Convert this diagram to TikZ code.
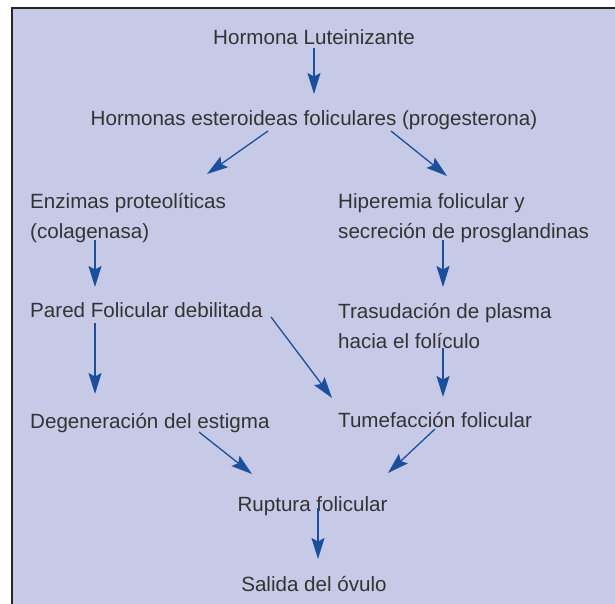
\documentclass[tikz,border=0pt]{standalone}
\usepackage{fontspec}
\setmainfont{Liberation Sans}
\usetikzlibrary{arrows.meta}
\definecolor{fondo}{HTML}{C7CAE6}
\definecolor{azul}{HTML}{1B4F9C}
\definecolor{texto}{HTML}{333333}
\begin{document}
\begin{tikzpicture}[x=1pt,y=1pt,
  etiq/.style={inner sep=0pt,text=texto,font=\fontsize{20.6}{30}\selectfont,align=left},
  flecha/.style={azul,line width=1.3pt,-{Stealth[length=21pt,width=13pt,inset=3.5pt]}}]
  % fondo y borde
  \useasboundingbox (0,0) rectangle (615,-604);
  \fill[fondo] (12,-8) rectangle (615,-604);
  \draw[line width=1.5pt,black!85] (12,-604) -- (12,-8) -- (615,-8);

  % textos centrados
  \node[etiq,anchor=base] (lh) at (314,-45) {Hormona Luteinizante};
  \node[etiq,anchor=base] (he) at (314,-126) {Hormonas esteroideas foliculares (progesterona)};
  \node[etiq,anchor=base] (rf) at (312.5,-511) {Ruptura folicular};
  \node[etiq,anchor=base] (so) at (314,-591) {Salida del óvulo};

  % columna izquierda
  \node[etiq,anchor=base west] (ez) at (30,-238) {Enzimas proteolíticas\\(colagenasa)};
  \node[etiq,anchor=base west] (pf) at (30,-317) {Pared Folicular debilitada};
  \node[etiq,anchor=base west] (dg) at (30,-428) {Degeneración del estigma};

  % columna derecha
  \node[etiq,anchor=base west] (hp) at (338,-238) {Hiperemia folicular y\\secreción de prosglandinas};
  \node[etiq,anchor=base west] (tr) at (338,-348) {Trasudación de plasma\\hacia el folículo};
  \node[etiq,anchor=base west] (tm) at (338,-427) {Tumefacción folicular};

  % flechas
  \draw[flecha] ([yshift=-3pt]lh.base) -- ([yshift=32pt]he.base);
  \draw[flecha] ([shift={(-46,-5)}]he.base) -- ([shift={(177,64)}]ez.base west);
  \draw[flecha] ([shift={(77,-5)}]he.base) -- ([shift={(109,62)}]hp.base west);
  \draw[flecha] ([shift={(65,-2)}]ez.base west) -- ([shift={(65,30)}]pf.base west);
  \draw[flecha] ([shift={(105,-2)}]hp.base west) -- ([shift={(105,61)}]tr.base west);
  \draw[flecha] ([shift={(65,-6)}]pf.base west) -- ([shift={(65,34)}]dg.base west);
  \draw[flecha] ([shift={(241,0)}]pf.base west) -- ([shift={(-6,29)}]tm.base west);
  \draw[flecha] ([shift={(105,0)}]tr.base west) -- ([shift={(105,30)}]tm.base west);
  \draw[flecha] ([shift={(169,-4)}]dg.base west) -- ([shift={(-60.5,37)}]rf.base);
  \draw[flecha] ([shift={(97,-2)}]tm.base west) -- ([shift={(75.5,38)}]rf.base);
  \draw[flecha] ([shift={(5.5,3)}]rf.base) -- ([shift={(4,32)}]so.base);
\end{tikzpicture}
\end{document}
